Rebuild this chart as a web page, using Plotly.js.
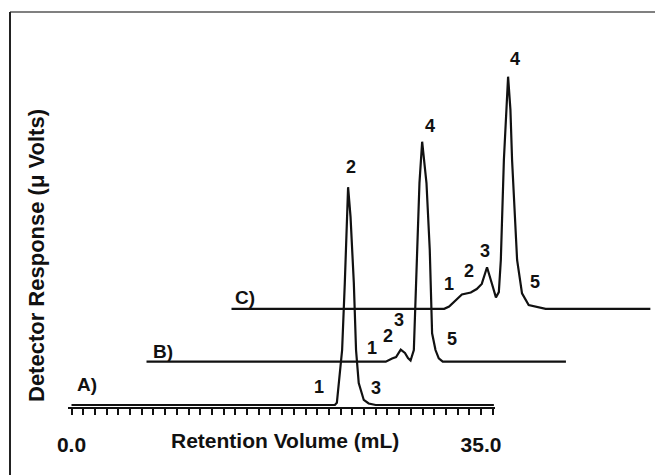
<!DOCTYPE html>
<html>
<head>
<meta charset="utf-8">
<script src="https://cdn.plot.ly/plotly-3.0.1.min.js"></script>
<style>html,body{margin:0;padding:0;background:#fff;}#chart{width:655px;height:475px;}</style>
</head>
<body>
<div id="chart"></div>
<script>
// ---- Data (retention volume in mL, detector response in arbitrary µV units) ----
const volA  = [0, 22.51, 22.68, 23.13, 23.36, 23.51, 23.64, 23.85, 24.13, 24.32, 24.55, 24.98, 25.4, 26.0, 36.1];
const respA = [0, 0, 1, 25, 55.5, 85.5, 99, 85.5, 55.5, 25, 10, 2.3, 0.7, 0, 0];

const volB  = [0, 20.45, 20.99, 21.33, 21.73, 22.09, 22.35, 22.57, 22.85, 23.13, 23.33, 23.56, 23.93, 24.21, 24.41, 24.7, 24.98, 25.32, 35.85];
const respB = [0, 0, 1.45, 2.1, 5.5, 4.0, 1.7, 0.55, 5.3, 50.8, 81.2, 100, 81.2, 50.8, 12.9, 5.3, 1.5, 0, 0];

const volC  = [0, 18.18, 18.6, 19.26, 19.69, 20.45, 20.96, 21.39, 21.84, 22.24, 22.6, 22.85, 23.02, 23.28, 23.47, 23.64, 23.84, 23.98, 24.41, 24.83, 25.4, 26.53, 26.85, 35.8];
const respC = [0, 0, 1, 4.5, 6.5, 7.4, 9, 11.3, 18.9, 11.7, 5.2, 7.6, 22.2, 67.6, 90.4, 105.5, 90.4, 67.6, 22.2, 7, 1.7, 0.2, 0, 0];

const traceNames = ['A)', 'B)', 'C)'];
const tickVals = [0, 35];
const tickText = ['0.0', '35.0'];

// peak labels: text, volume, response (in each trace's own frame)
const peakTextA = ['1', '2', '3'];
const peakVolA  = [21.15, 23.85, 26.03];
const peakRespA = [8.2, 108, 7.7];
const peakTextB = ['1', '2', '3', '4', '5'];
const peakVolB  = [19.27, 20.6, 21.54, 24.23, 26.15];
const peakRespB = [6.2, 11.5, 19, 107, 10.3];
const peakTextC = ['1', '2', '3', '4', '5'];
const peakVolC  = [18.63, 20.34, 21.67, 24.23, 25.98];
const peakRespC = [11.3, 17, 26.5, 113.5, 12.4];

// ---- Layout geometry ----
const W = 655, H = 475;
const FONT = 'Liberation Sans, Arial, Helvetica, sans-serif';
const pxPerML = 11.7, pxPerUnit = 2.2;
const frameX0 = [71.5, 146.5, 231.5];   // pixel of 0 mL for each trace frame
const frameBase = [405, 361.7, 308.8];  // pixel of zero response for each trace frame
const frameW = 427, frameH = 302, padL = 3.5, padB = 2;

function xDom(i){ const a = frameX0[i]-padL; return [a/W, Math.min(1,(a+frameW)/W)]; }
function yDom(i){ const b = frameBase[i]+padB; return [(H-b)/H, (H-(b-frameH))/H]; }
const xRange = [-padL/pxPerML, (frameW-padL)/pxPerML];
const yRange = [-padB/pxPerUnit, (frameH-padB)/pxPerUnit];

const line = {color:'#111', width:2.2};
const vols = [volA, volB, volC], resps = [respA, respB, respC];
const traces = vols.map((v,i)=>({
  x: v, y: resps[i], type:'scatter', mode:'lines', line: line, name: traceNames[i],
  xaxis: i===0?'x':'x'+(i+1), yaxis: i===0?'y':'y'+(i+1), hoverinfo:'skip'
}));

const hidden = {visible:false, showgrid:false, zeroline:false, fixedrange:true};
const layout = {
  width: W, height: H, margin:{l:0,r:0,t:0,b:0},
  paper_bgcolor:'#fff', plot_bgcolor:'rgba(0,0,0,0)', showlegend:false,
  font:{family:FONT, color:'#111'},
  xaxis: {
    domain: xDom(0), range: xRange, anchor:'y',
    showline:true, linecolor:'#111', linewidth:2,
    ticks:'outside', ticklen:6, tickwidth:2, tickcolor:'#111',
    tickvals: tickVals, ticktext: tickText,
    tickfont:{family:FONT, size:21, weight:'bold', color:'#111'},
    ticklabelstandoff: 12,
    minor:{tick0:0, dtick:1, ticks:'outside', ticklen:6, tickwidth:2, tickcolor:'#111', showgrid:false},
    showgrid:false, zeroline:false, fixedrange:true
  },
  yaxis: Object.assign({domain: yDom(0), range: yRange, anchor:'x'}, hidden),
  xaxis2: Object.assign({domain: xDom(1), range: xRange, anchor:'y2'}, hidden),
  yaxis2: Object.assign({domain: yDom(1), range: yRange, anchor:'x2'}, hidden),
  xaxis3: Object.assign({domain: xDom(2), range: xRange, anchor:'y3'}, hidden),
  yaxis3: Object.assign({domain: yDom(2), range: yRange, anchor:'x3'}, hidden),
  shapes: [
    {type:'line', xref:'paper', yref:'paper', x0:10/W, x1:1, y0:(H-12)/H, y1:(H-12)/H, line:{color:'#808080', width:2}},
    {type:'line', xref:'paper', yref:'paper', x0:10/W, x1:10/W, y0:(H-12)/H, y1:0, line:{color:'#222', width:2}}
  ],
  annotations: []
};

const ann = layout.annotations;
function lab(text, x, y, xr, yr, size){
  ann.push({text:text, x:x, y:y, xref:xr, yref:yr, showarrow:false, xanchor:'center', yanchor:'middle',
    font:{family:FONT, size:size, weight:'bold', color:'#111'}});
}
[[peakTextA,peakVolA,peakRespA],[peakTextB,peakVolB,peakRespB],[peakTextC,peakVolC,peakRespC]].forEach((g,i)=>{
  const xr = i===0?'x':'x'+(i+1), yr = i===0?'y':'y'+(i+1);
  g[0].forEach((t,k)=>lab(t, g[1][k], g[2][k], xr, yr, 18));
});
// trace labels
const traceLabVol = [1.3, 1.37, 1.15], traceLabResp = [9.5, 4.6, 5.3];
traceNames.forEach((t,i)=>lab(t, traceLabVol[i], traceLabResp[i], i===0?'x':'x'+(i+1), i===0?'y':'y'+(i+1), 19));
// axis titles
lab('Retention Volume (mL)', 285/W, (H-440)/H, 'paper', 'paper', 21);
ann.push({text:'Detector Response (\u03bc Volts)', x:36/W, y:(H-256)/H, xref:'paper', yref:'paper',
  showarrow:false, textangle:-90, xanchor:'center', yanchor:'middle',
  font:{family:FONT, size:22, weight:'bold', color:'#111'}});

Plotly.newPlot('chart', traces, layout, {staticPlot:true, displayModeBar:false});
</script>
</body>
</html>
